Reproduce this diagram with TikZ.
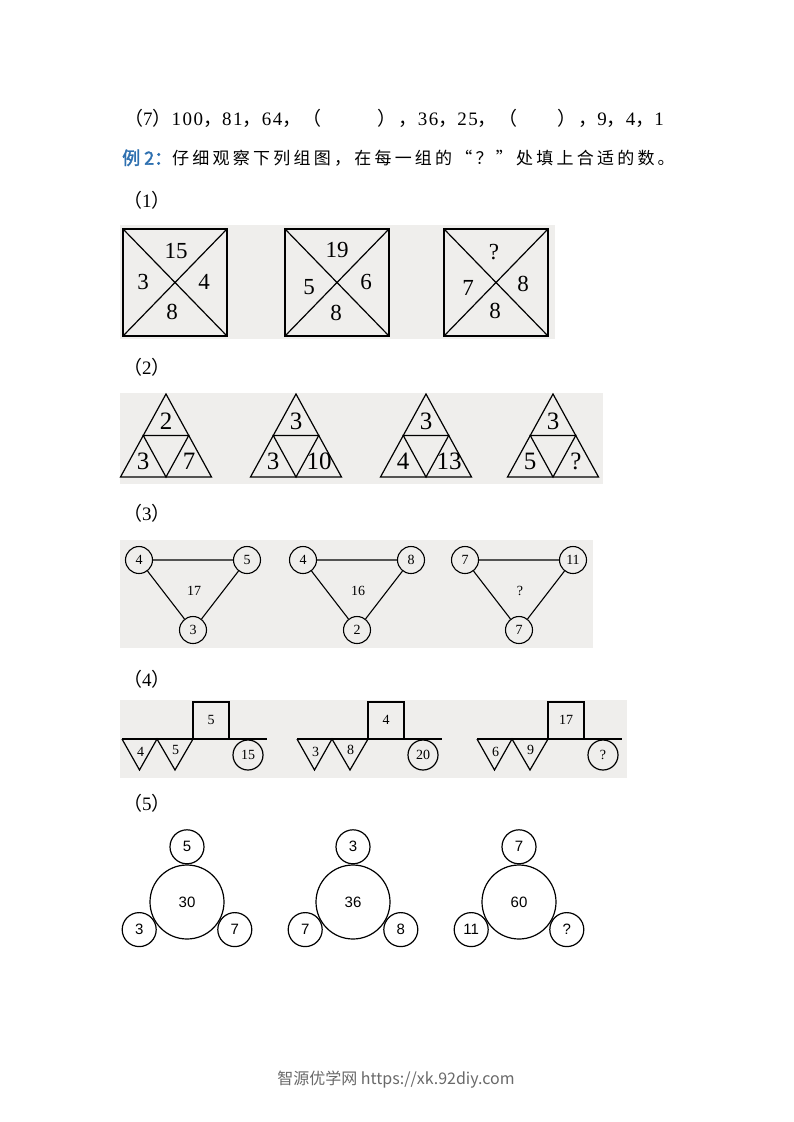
\documentclass[tikz,border=0pt]{standalone}
\usepackage{fontspec}
\setmainfont{Liberation Serif}[LetterSpace=8]
\newfontfamily\cjk[LetterSpace=8]{Noto Sans CJK SC}
\newfontfamily\cjkplain{Noto Sans CJK SC}
\newfontfamily\cjksp[LetterSpace=19]{Noto Sans CJK SC}
\newfontfamily\cjkbold[FakeBold=2]{Noto Sans CJK SC}
\newfontfamily\serifplain{Liberation Serif}
\newfontfamily\sansf{Liberation Sans}
\newcommand{\zh}[1]{{\cjk #1}}
\definecolor{bggray}{RGB}{239,238,236}
\definecolor{exblue}{RGB}{46,112,176}
\definecolor{footgray}{RGB}{105,105,105}
\begin{document}
\begin{tikzpicture}[x=1pt,y=-1pt,
  bgbox/.style={fill=bggray,draw=none},
  txt/.style={anchor=west,inner sep=0,font=\fontsize{19}{21}\selectfont},
  sqnum/.style={inner sep=0,font=\serifplain\fontsize{23}{23}\selectfont},
  trinum/.style={inner sep=0,font=\serifplain\fontsize{25}{25}\selectfont},
  thick sq/.style={line width=1.9pt},
  thinline/.style={line width=1.2pt},
  ball/.style={circle,draw,line width=1.1pt,minimum size=27pt,inner sep=0,font=\serifplain\fontsize{14}{14}\selectfont},
  smallnum/.style={inner sep=0,font=\serifplain\fontsize{14}{14}\selectfont},
  bigring/.style={circle,draw,line width=1.2pt,minimum size=74pt,inner sep=0,font=\sansf\fontsize{15}{15}\selectfont},
  smallring/.style={circle,draw,line width=1.2pt,minimum size=34pt,inner sep=0,font=\sansf\fontsize{15}{15}\selectfont},
  line join=miter]
\useasboundingbox (0,0) rectangle (793,1122);
\fill[white] (0,0) rectangle (793,1122);

% ---------- text lines ----------
\node[txt] (l7) at (124,118) {\zh{（}7\zh{）}100\zh{，}81\zh{，}64\zh{，（}\hspace{56pt}\zh{）}\hspace{2pt}\zh{，}36\zh{，}25\zh{，（}\hspace{40pt}\zh{）}\hspace{2pt}\zh{，}9\zh{，}4\zh{，}1};
\node[txt] (ex2) at (122,158) {{\cjkbold\color{exblue}\fontsize{18}{20}\selectfont 例 2：}{\cjksp\fontsize{17}{20}\selectfont 仔细观察下列组图，在每一组的“？”处填上合适的数。}};
\node[txt] (lab1) at (123,200) {\zh{（}1\zh{）}};
\node[txt] (lab2) at (123,367) {\zh{（}2\zh{）}};
\node[txt] (lab3) at (123,513) {\zh{（}3\zh{）}};
\node[txt] (lab4) at (123,679) {\zh{（}4\zh{）}};
\node[txt] (lab5) at (123,803) {\zh{（}5\zh{）}};

% ---------- (1) squares ----------
\fill[bggray] (120,225) rectangle (555,339);
\foreach \L [count=\i] in {123, 285, 444}{
  \coordinate (q\i a) at (\L,229);
  \coordinate (q\i b) at (\L+104,229);
  \coordinate (q\i c) at (\L+104,336);
  \coordinate (q\i d) at (\L,336);
  \draw[thinline] (q\i a) -- (q\i c) (q\i b) -- (q\i d);
  \draw[thick sq] (q\i a) -- (q\i b) -- (q\i c) -- (q\i d) -- cycle;
}
\node[sqnum] (q1t) at (176,251) {15};
\node[sqnum] (q1l) at (143,282) {3};
\node[sqnum] (q1r) at (204,282) {4};
\node[sqnum] (q1m) at (172,312) {8};
\node[sqnum] (q2t) at (337,250) {19};
\node[sqnum] (q2l) at (309,287) {5};
\node[sqnum] (q2r) at (366,282) {6};
\node[sqnum] (q2m) at (336,313) {8};
\node[sqnum] (q3t) at (494,252) {?};
\node[sqnum] (q3l) at (468,288) {7};
\node[sqnum] (q3r) at (523,284) {8};
\node[sqnum] (q3m) at (495,311) {8};

% ---------- (2) triangles ----------
\fill[bggray] (120,393) rectangle (603,484);
\foreach \X/\P/\Q/\R [count=\i] in {166/2/3/7, 296/3/3/10, 426/3/4/13, 553/3/5/?}{
  \coordinate (t\i top) at (\X,394);
  \coordinate (t\i bl) at (\X-45.5,477);
  \coordinate (t\i br) at (\X+45.5,477);
  \coordinate (t\i ml) at (\X-22.75,435.5);
  \coordinate (t\i mr) at (\X+22.75,435.5);
  \coordinate (t\i bm) at (\X,477);
  \draw[thinline] (t\i top) -- (t\i br) -- (t\i bl) -- cycle;
  \draw[thinline] (t\i ml) -- (t\i mr) -- (t\i bm) -- cycle;
  \node[trinum] (t\i p) at (\X,421) {\P};
  \node[trinum] (t\i q) at (\X-23,461) {\Q};
  \node[trinum] (t\i r) at (\X+23,461) {\R};
}

% ---------- (3) circle triangles ----------
\fill[bggray] (120,540) rectangle (593,648);
\foreach \X/\U/\V/\W/\M [count=\i] in {139/4/5/3/17, 303/4/8/2/16, 465/7/11/7/?}{
  \node[ball] (c\i a) at (\X,560) {\U};
  \node[ball] (c\i b) at (\X+108,560) {\V};
  \node[ball] (c\i c) at (\X+54,630) {\W};
  \draw[line width=1.1pt] (c\i a) -- (c\i b) -- (c\i c) -- (c\i a);
  \node[smallnum] (c\i m) at (\X+55,591) {\M};
}

% ---------- (4) balance ----------
\fill[bggray] (120,700) rectangle (627,778);
\foreach \L/\A/\B/\S/\C [count=\i] in {122/4/5/5/15, 297/3/8/4/20, 477/6/9/17/?}{
  \coordinate (b\i l) at (\L,739);
  \coordinate (b\i r) at (\L+145,739);
  \coordinate (b\i m) at (\L+35,739);
  \coordinate (b\i n) at (\L+71,739);
  \coordinate (b\i o) at (\L+107,739);
  \coordinate (b\i p) at (\L+17.5,770);
  \coordinate (b\i q) at (\L+53,770);
  \draw[thinline] (b\i l) -- (b\i r);
  \draw[thinline] (b\i l) -- (b\i p) -- (b\i m) -- (b\i q) -- (b\i n);
  \draw[thinline] (b\i n) -- ++(0,-37) -- ++(36,0) -- (b\i o);
  \node[smallnum] (b\i s) at (\L+89,720) {\S};
  \node[smallnum] (b\i a) at (\L+18.5,752) {\A};
  \node[smallnum] (b\i b) at (\L+53.5,750) {\B};
  \node[circle,draw,line width=1.2pt,minimum size=30pt,inner sep=0,font=\serifplain\fontsize{14}{14}\selectfont] (b\i c) at (\L+126,755) {\C};
}

% ---------- (5) circles ----------
\foreach \X/\M/\T/\Lf/\Rt [count=\i] in {187/30/5/3/7, 353/36/3/7/8, 519/60/7/11/?}{
  \node[bigring] (r\i) at (\X,902) {\M};
  \node[smallring,anchor=south] (r\i t) at (r\i.north) {\T};
  \node[smallring,anchor=30] (r\i l) at (r\i.210) {\Lf};
  \node[smallring,anchor=150] (r\i r) at (r\i.330) {\Rt};
}

% ---------- footer ----------
\node[inner sep=0,text=footgray,font=\cjkplain\fontsize{16}{18}\selectfont] (foot) at (396,1080) {智源优学网 https://xk.92diy.com};
\end{tikzpicture}
\end{document}
